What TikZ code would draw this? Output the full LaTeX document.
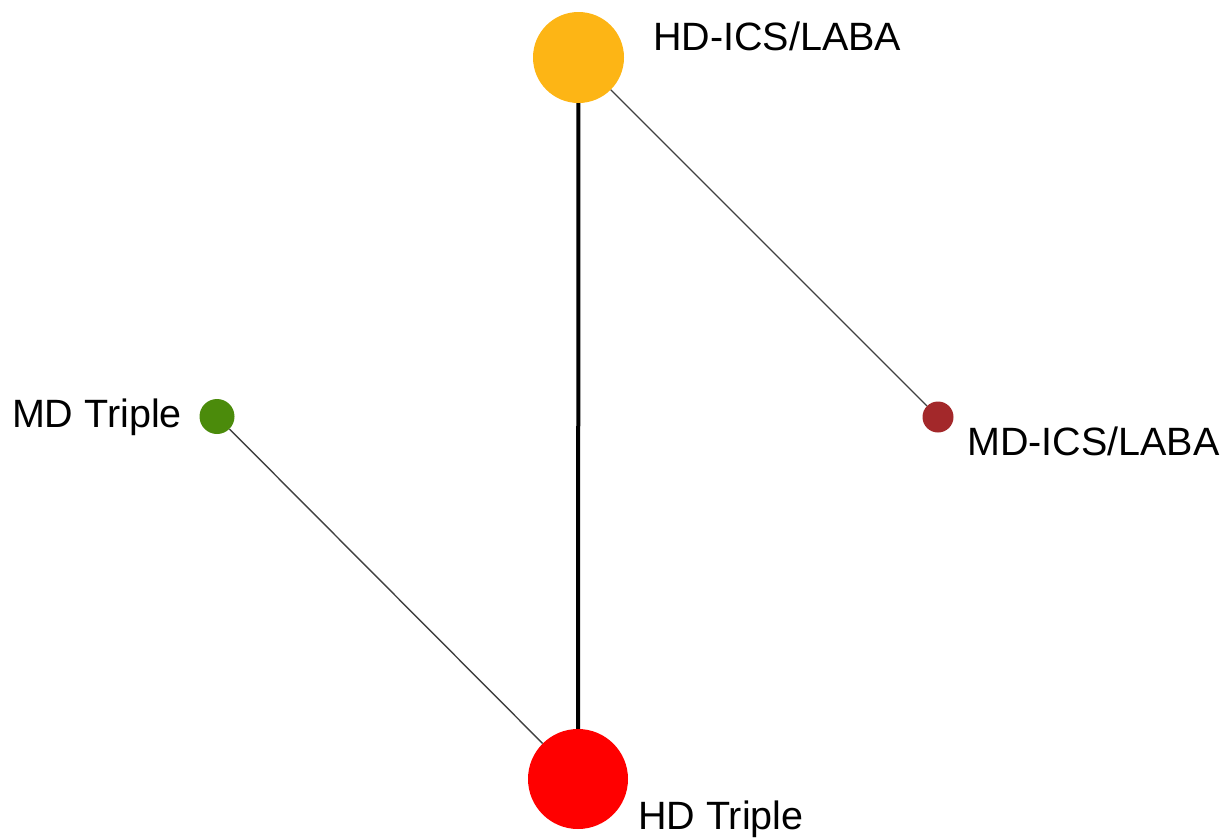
\documentclass[tikz,border=0pt]{standalone}
\usepackage{fontspec}
\setmainfont{Liberation Sans}
\usepackage{tikz}

\definecolor{hdlaba}{HTML}{FDB515}
\definecolor{hdtriple}{HTML}{FF0000}
\definecolor{mdtriple}{HTML}{4B8B0B}
\definecolor{mdlaba}{HTML}{A3282A}

\tikzset{
  trt/.style={circle,inner sep=0pt,fill=#1},
  lbl/.style={inner sep=0pt,font=\fontsize{39.5}{41}\selectfont},
  thin edge/.style={draw=black!75,line width=1.4pt},
  thick edge/.style={draw=black,line width=4pt}
}

\begin{document}
\begin{tikzpicture}[x=1pt,y=-1pt]
                \useasboundingbox (0,0) rectangle (1227,838);

                \node[trt=hdlaba,minimum size=91pt] (hdl) at (578.5,57.5) {};
                \node[trt=hdtriple,minimum size=100pt] (hdt) at (578,779) {};
                \node[trt=mdtriple,minimum size=35pt] (mdt) at (217,416.5) {};
                \node[trt=mdlaba,minimum size=31pt] (mdl) at (938,417) {};

                \node[lbl,anchor=base west] (hdltext) at (653,50) {HD-ICS/LABA};
                \node[lbl,anchor=base west] (hdttext) at (638,829) {HD Triple};
                \node[lbl,anchor=base east] (mdttext) at (182,427) {MD Triple};
                \node[lbl,anchor=base west] (mdltext) at (967,455) {MD-ICS/LABA};

                \path[thick edge] (hdl) -- (hdt);
                \path[thin edge] (hdl) -- (mdl);
                \path[thin edge] (mdt) -- (hdt);

            \end{tikzpicture}
\end{document}
